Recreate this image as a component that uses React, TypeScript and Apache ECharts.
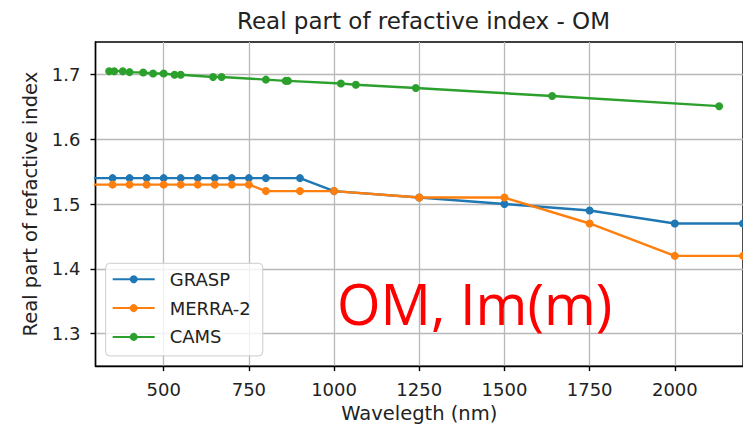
import React, { useEffect, useRef } from "react";
import * as echarts from "echarts";

const graspWl = [250, 350, 400, 450, 500, 550, 600, 650, 700, 750, 800, 900, 1000, 1250, 1500, 1750, 2000, 2200];
const graspRe = [1.54, 1.54, 1.54, 1.54, 1.54, 1.54, 1.54, 1.54, 1.54, 1.54, 1.54, 1.54, 1.52, 1.51, 1.5, 1.49, 1.47, 1.47];

const merraWl = [250, 350, 400, 450, 500, 550, 600, 650, 700, 750, 800, 900, 1000, 1250, 1500, 1750, 2000, 2200];
const merraRe = [1.53, 1.53, 1.53, 1.53, 1.53, 1.53, 1.53, 1.53, 1.53, 1.53, 1.52, 1.52, 1.52, 1.51, 1.51, 1.47, 1.42, 1.42];

const camsWl = [340, 355, 380, 400, 440, 469, 500, 532, 550, 645, 670, 800, 858, 865, 1020, 1064, 1240, 1640, 2130];
const camsRe = [1.705, 1.705, 1.705, 1.7035, 1.703, 1.7015, 1.7015, 1.6995, 1.6995, 1.696, 1.696, 1.692, 1.69, 1.69, 1.686, 1.684, 1.679, 1.6666, 1.651];

const xTicks = [500, 750, 1000, 1250, 1500, 1750, 2000];
const yTicks = [1.3, 1.4, 1.5, 1.6, 1.7];

const seriesNames = ["GRASP", "MERRA-2", "CAMS"];
const colors = ["#1f77b4", "#ff7f0e", "#2ca02c"];

const titleText = "Real part of refactive index - OM";
const xName = "Wavelegth (nm)";
const yName = "Real part of refactive index";
const overlayText = "OM, Im(m)";

const FONT = "DejaVu Sans";

function pairs(xs: number[], ys: number[]) {
  return xs.map((x, i) => [x, ys[i]]);
}

export default function App() {
  const ref = useRef<HTMLDivElement>(null);
  useEffect(() => {
    if (!ref.current) return;
    const chart = echarts.init(ref.current, undefined, { renderer: "svg" });
    const gridLeft = 95.5;
    const gridWidth = 656;
    const mkSeries = (i: number, xs: number[], ys: number[]) => ({
      name: seriesNames[i],
      type: "line",
      data: pairs(xs, ys),
      color: colors[i],
      symbol: "circle",
      symbolSize: 8,
      showSymbol: true,
      clip: true,
      lineStyle: { width: 2.4, color: colors[i] },
      itemStyle: { color: colors[i] },
      emphasis: { disabled: true },
    });
    chart.setOption({
      animation: false,
      backgroundColor: "#ffffff",
      textStyle: { fontFamily: FONT },
      grid: {
        left: gridLeft,
        top: 42,
        width: gridWidth,
        height: 325,
        show: true,
        borderColor: "#000000",
        borderWidth: 1.4,
        backgroundColor: "transparent",
      },
      legend: {
        orient: "vertical",
        left: 105.7,
        top: 263.3,
        data: seriesNames,
        itemWidth: 42,
        itemHeight: 10,
        itemGap: 10.8,
        padding: [7, 12, 10, 6],
        backgroundColor: "rgba(255,255,255,0.8)",
        borderColor: "#cccccc",
        borderWidth: 1,
        borderRadius: 4,
        textStyle: { fontFamily: FONT, fontSize: 18, color: "#222222", padding: [0, 0, 0, 10] },
      },
      xAxis: {
        type: "value",
        min: 300,
        max: 2200,
        name: xName,
        nameLocation: "middle",
        nameGap: 33,
        nameTextStyle: { fontFamily: FONT, fontSize: 19.5, color: "#222222" },
        axisLine: { show: true, lineStyle: { color: "#000000", width: 1.4 } },
        axisTick: { show: true, length: 5, lineStyle: { color: "#000000", width: 1.4 }, customValues: xTicks },
        axisLabel: {
          customValues: xTicks,
          margin: 14,
          fontFamily: FONT,
          fontSize: 18,
          color: "#222222",
          formatter: (v: number) => String(Math.round(v)),
        },
        splitLine: { show: true, lineStyle: { color: "#b8b8b8", width: 1.3 } },
      },
      yAxis: {
        type: "value",
        min: 1.25,
        max: 1.75,
        name: yName,
        nameLocation: "middle",
        nameGap: 54,
        nameTextStyle: { fontFamily: FONT, fontSize: 19.5, color: "#222222" },
        axisLine: { show: true, lineStyle: { color: "#000000", width: 1.4 } },
        axisTick: { show: true, length: 5, lineStyle: { color: "#000000", width: 1.4 }, customValues: yTicks },
        axisLabel: {
          customValues: yTicks,
          margin: 15,
          fontFamily: FONT,
          fontSize: 18,
          color: "#222222",
          formatter: (v: number) => v.toFixed(1),
        },
        splitLine: { show: true, lineStyle: { color: "#b8b8b8", width: 1.3 } },
      },
      graphic: [
        {
          type: "text",
          x: gridLeft + gridWidth / 2,
          y: 20.5,
          z: 100,
          style: {
            text: titleText,
            fontFamily: FONT,
            fontSize: 23,
            fill: "#222222",
            textAlign: "center",
            textVerticalAlign: "middle",
          },
        },
        {
          type: "text",
          x: 337,
          y: 303.3,
          z: 100,
          style: {
            text: overlayText,
            fontFamily: "Open Sans",
            fontSize: 56,
            fill: "#ff0000",
            textAlign: "left",
            textVerticalAlign: "middle",
          },
        },
      ],
      series: [
        mkSeries(0, graspWl, graspRe),
        mkSeries(1, merraWl, merraRe),
        mkSeries(2, camsWl, camsRe),
      ],
    });
    return () => chart.dispose();
  }, []);
  return (
    <div
      ref={ref}
      style={{ position: "fixed", left: 0, top: 0, width: 743, height: 428, background: "#fff" }}
    />
  );
}
